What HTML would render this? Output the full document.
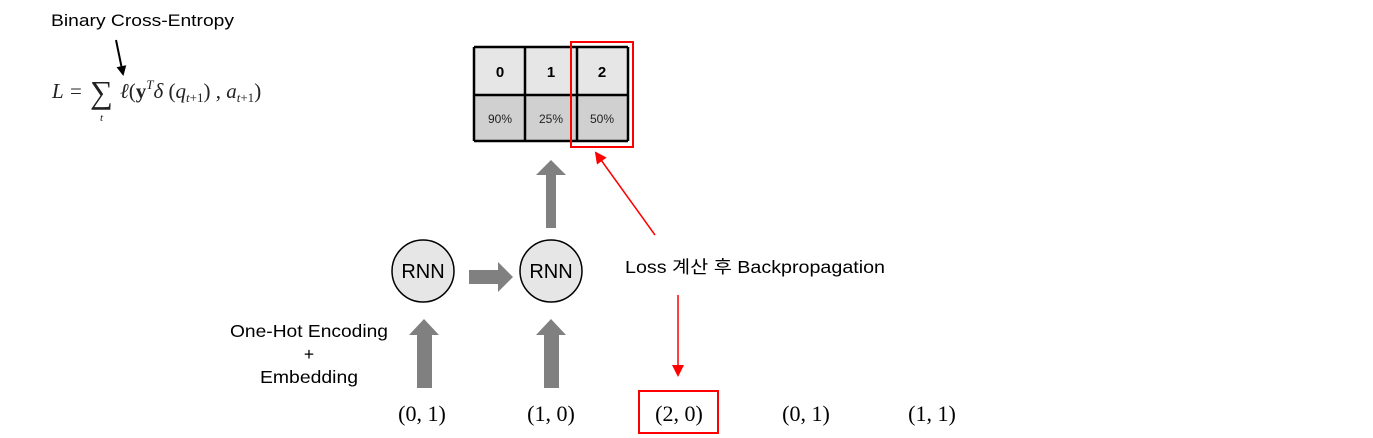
<!DOCTYPE html>
<html><head><meta charset="utf-8"><style>
html,body{margin:0;padding:0;background:#fff;}
svg{display:block;}
.s{font-family:"Liberation Sans","Noto Sans CJK KR",sans-serif;}
.m{font-family:"Liberation Serif","DejaVu Serif",serif;}
</style></head><body>
<svg width="1373" height="438" viewBox="0 0 1373 438" xmlns="http://www.w3.org/2000/svg">
<defs>
<marker id="ab" markerWidth="10" markerHeight="10" refX="8" refY="5" orient="auto" markerUnits="userSpaceOnUse"><path d="M0,0 L10,5 L0,10 z" fill="#000"/></marker>
<marker id="ar" markerWidth="12" markerHeight="12" refX="10" refY="6" orient="auto" markerUnits="userSpaceOnUse"><path d="M0,0 L12,6 L0,12 z" fill="#f00"/></marker>
</defs>
<text x="51" y="26" class="s" font-size="17" fill="#000" textLength="183" lengthAdjust="spacingAndGlyphs">Binary Cross-Entropy</text>
<line x1="116" y1="40" x2="123" y2="74" stroke="#000" stroke-width="2" marker-end="url(#ab)"/>
<g class="m" fill="#222">
<text x="52" y="98" font-size="21" font-style="italic">L</text>
<text x="70" y="98" font-size="21">=</text>
<text x="90" y="103" font-size="32">∑</text>
<text x="100" y="121" font-size="11" font-style="italic">t</text>
<text x="120" y="98" font-size="21"><tspan font-style="italic">ℓ</tspan>(<tspan font-weight="bold">y</tspan><tspan font-size="13" dy="-9" font-style="italic">T</tspan><tspan dy="9" font-style="italic">δ</tspan> (<tspan font-style="italic">q</tspan><tspan font-size="13" dy="4" font-style="italic">t</tspan><tspan font-size="13">+1</tspan><tspan dy="-4">) , </tspan><tspan font-style="italic">a</tspan><tspan font-size="13" dy="4" font-style="italic">t</tspan><tspan font-size="13">+1</tspan><tspan dy="-4">)</tspan></text>
</g>
<rect x="474" y="47" width="154" height="48" fill="#e6e6e6"/>
<rect x="474" y="95" width="154" height="46" fill="#d0d0d0"/>
<g stroke="#000" stroke-width="2.5">
<line x1="474" y1="47" x2="628" y2="47"/><line x1="474" y1="95" x2="628" y2="95"/><line x1="474" y1="141" x2="628" y2="141"/>
<line x1="474" y1="47" x2="474" y2="141"/><line x1="525" y1="47" x2="525" y2="141"/><line x1="577" y1="47" x2="577" y2="141"/><line x1="628" y1="47" x2="628" y2="141"/>
</g>
<g class="s" font-size="15" font-weight="bold" text-anchor="middle"><text x="500" y="77">0</text><text x="551" y="77">1</text><text x="602" y="77">2</text></g>
<g class="s" font-size="12" text-anchor="middle" fill="#222"><text x="500" y="123">90%</text><text x="551" y="123">25%</text><text x="602" y="123">50%</text></g>
<rect x="571" y="42" width="62" height="105" fill="none" stroke="#f00" stroke-width="2"/>
<g fill="#808080">
<path d="M546,228 L556,228 L556,175 L566,175 L551,160 L536,175 L546,175 z"/>
<path d="M417,388 L432,388 L432,335 L439,335 L424,319 L409,335 L417,335 z"/>
<path d="M544,388 L559,388 L559,335 L566,335 L551,319 L536,335 L544,335 z"/>
<path d="M469,270 L498,270 L498,262 L513,277 L498,292 L498,284 L469,284 z"/>
</g>
<circle cx="423" cy="271" r="31" fill="#e6e6e6" stroke="#000" stroke-width="1.5"/>
<circle cx="551" cy="271" r="31" fill="#e6e6e6" stroke="#000" stroke-width="1.5"/>
<g class="s" font-size="20" text-anchor="middle"><text x="423" y="278">RNN</text><text x="551" y="278">RNN</text></g>
<g class="s" font-size="17.5" text-anchor="middle"><text x="309" y="337" textLength="158" lengthAdjust="spacingAndGlyphs">One-Hot Encoding</text><text x="309" y="360">+</text><text x="309" y="383" textLength="98" lengthAdjust="spacingAndGlyphs">Embedding</text></g>
<text x="625" y="273" class="s" font-size="17.5" textLength="260" lengthAdjust="spacingAndGlyphs">Loss 계산 후 Backpropagation</text>
<line x1="655" y1="235" x2="596" y2="153" stroke="#f00" stroke-width="1.5" marker-end="url(#ar)"/>
<line x1="678" y1="295" x2="678" y2="375" stroke="#f00" stroke-width="1.5" marker-end="url(#ar)"/>
<rect x="639" y="391" width="79" height="42" fill="none" stroke="#f00" stroke-width="2"/>
<g class="m" font-size="22" text-anchor="middle"><text x="422" y="421">(0, 1)</text><text x="551" y="421">(1, 0)</text><text x="679" y="421">(2, 0)</text><text x="806" y="421">(0, 1)</text><text x="932" y="421">(1, 1)</text></g>
</svg>
</body></html>
